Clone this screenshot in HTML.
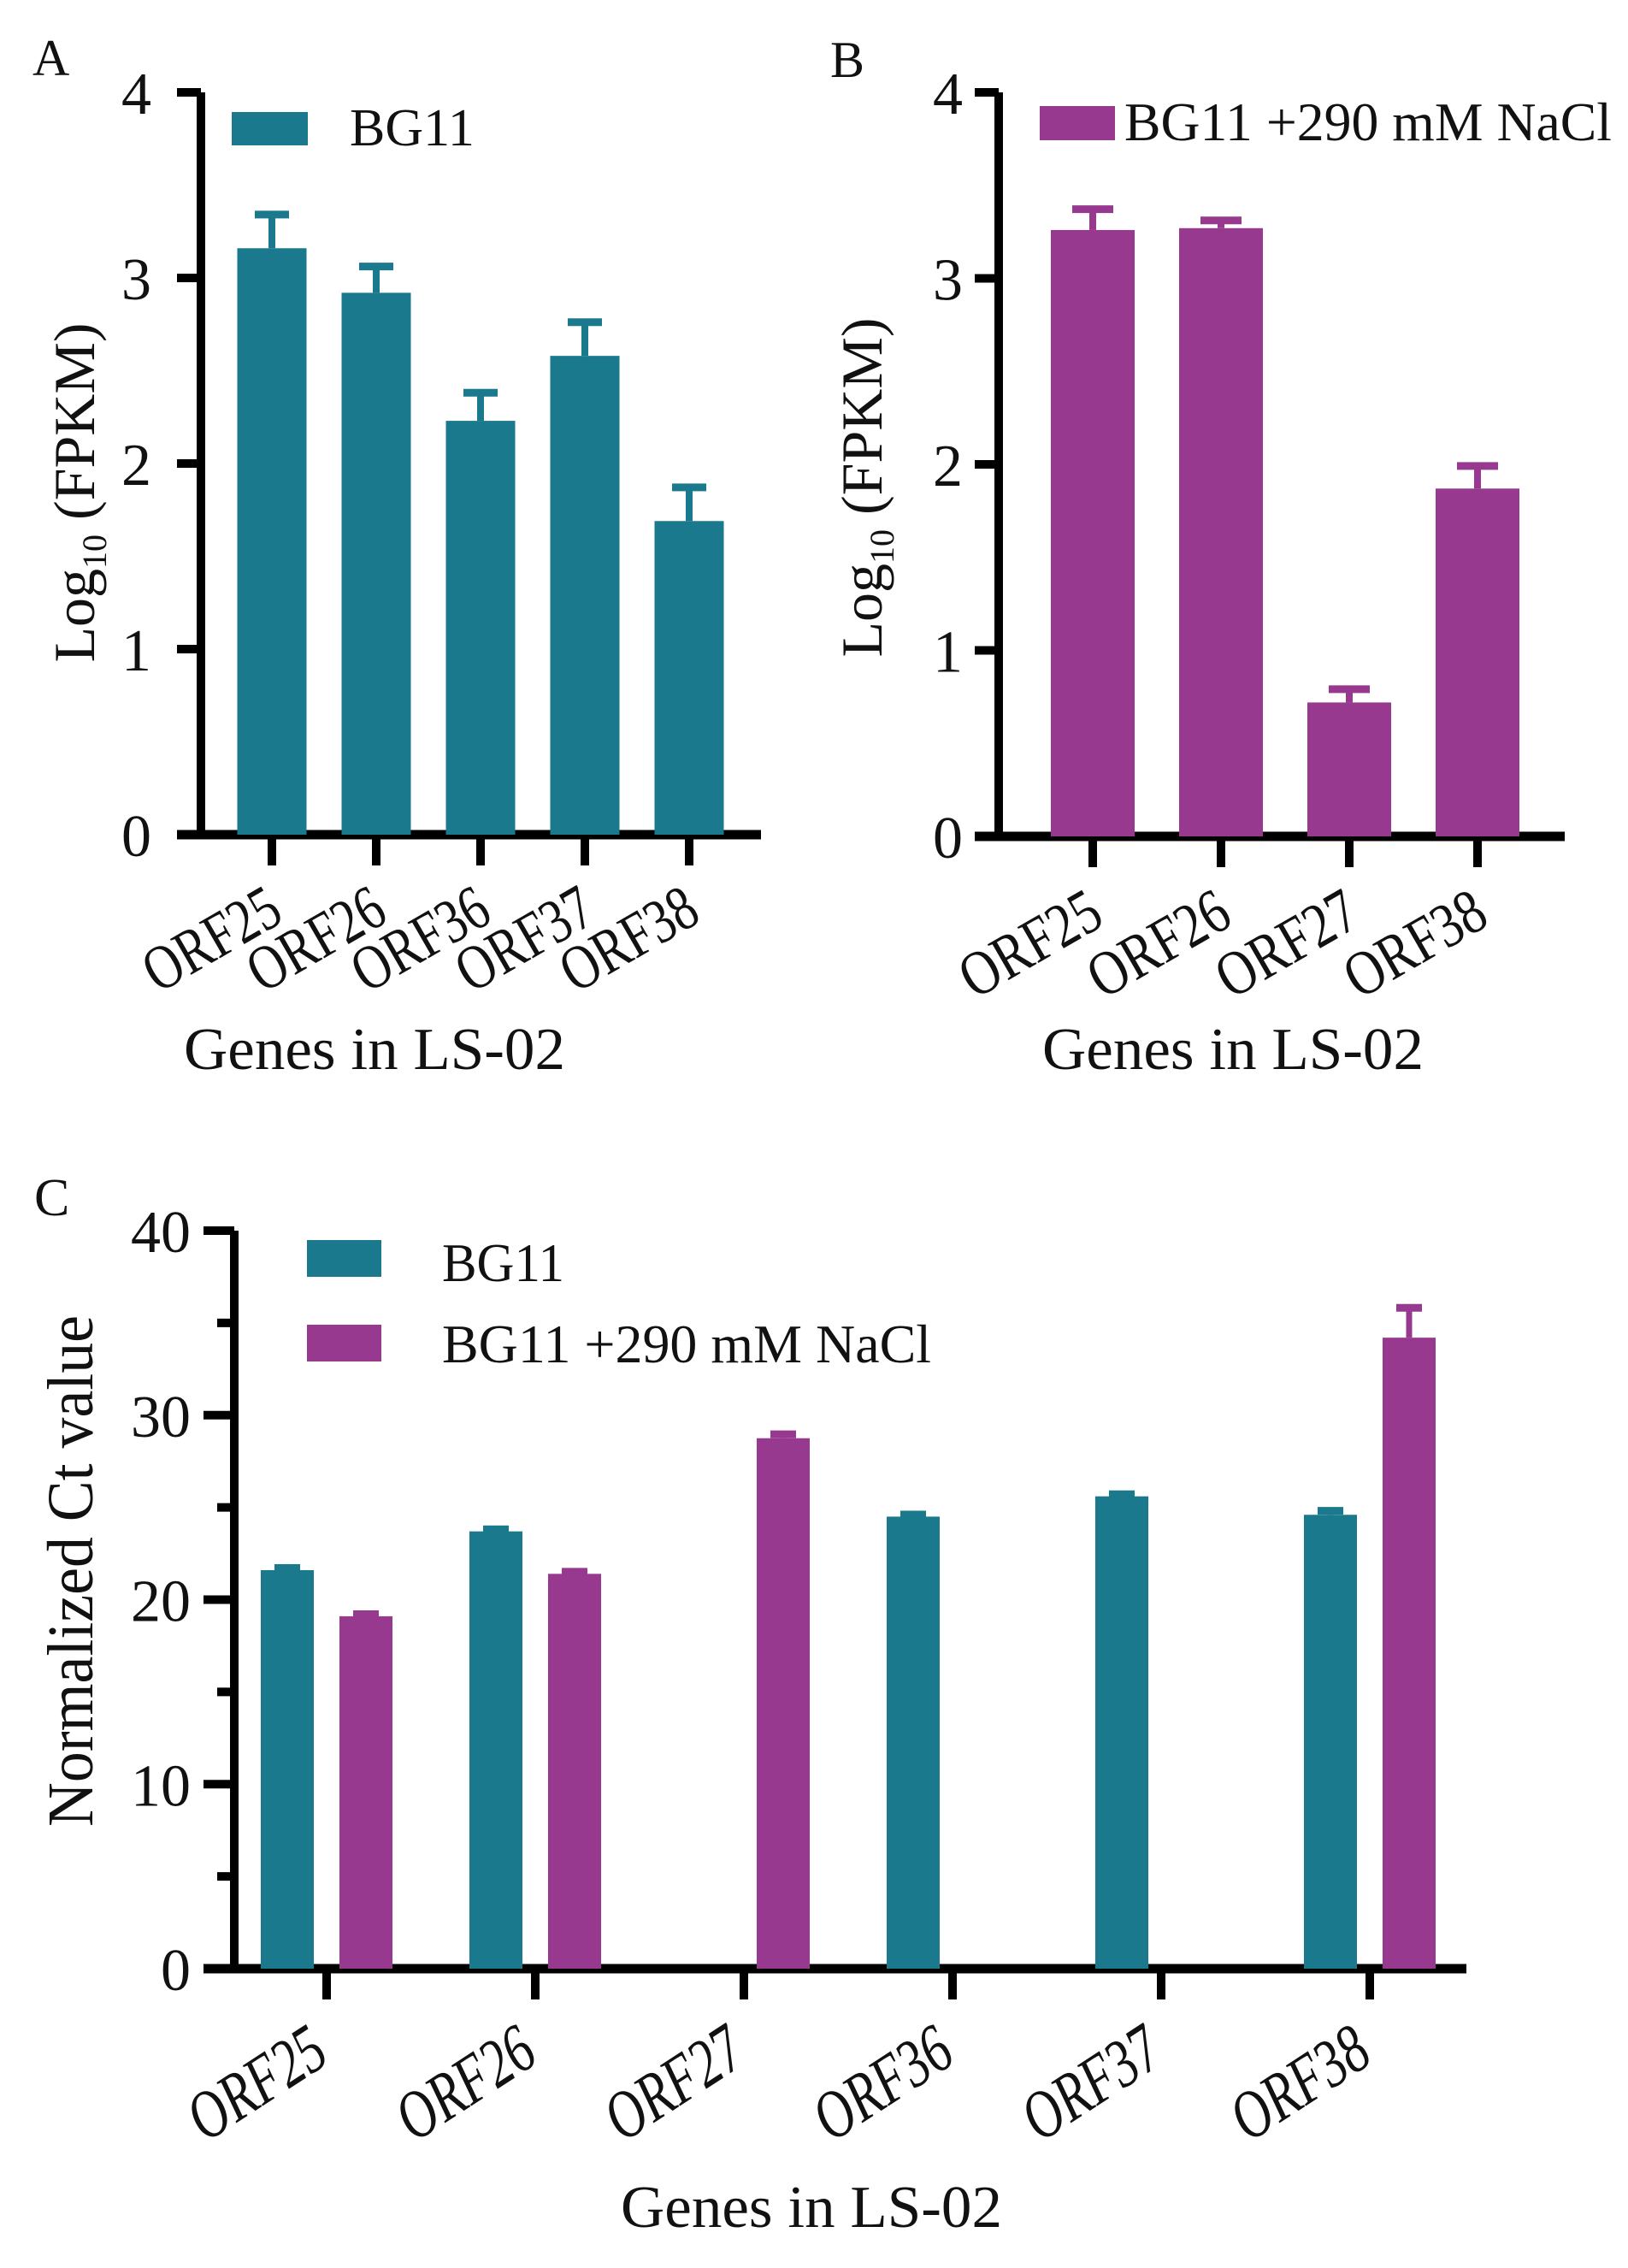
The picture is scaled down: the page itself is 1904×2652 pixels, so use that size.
<!DOCTYPE html>
<html><head><meta charset="utf-8"><style>
html,body{margin:0;padding:0;background:#fff;}
svg{display:block;}
text{font-family:"Liberation Serif",serif;fill:#111;}
</style></head><body>
<svg id="fig" width="1904" height="2652" viewBox="0 0 1904 2652" xmlns="http://www.w3.org/2000/svg">
<g id="pA"></g>
<g id="pB"></g>
<g id="pC"></g>
</svg>
<script>
const catsA = ["ORF25","ORF26","ORF36","ORF37","ORF38"];
const valsA = [3.16,2.92,2.23,2.58,1.69];
const errA = [0.2,0.16,0.17,0.2,0.2];
const catsB = ["ORF25","ORF26","ORF27","ORF38"];
const valsB = [3.26,3.27,0.72,1.87];
const errB = [0.13,0.06,0.09,0.14];
const ticksAB = [0,1,2,3,4];
const catsC = ["ORF25","ORF26","ORF27","ORF36","ORF37","ORF38"];
const valsCteal = [21.6,23.7,null,24.5,25.6,24.6];
const errCteal = [0.3,0.3,0,0.3,0.3,0.4];
const valsCmag = [19.1,21.4,28.75,null,null,34.2];
const errCmag = [0.3,0.3,0.4,0,0,1.8];
const ticksC = [0,10,20,30,40];
const minorC = [5,15,25,35];
const TEAL="#1a798d", MAG="#973a8f";
const NS="http://www.w3.org/2000/svg";
function mk(parent,tag,attrs,txt){const e=document.createElementNS(NS,tag);for(const k in attrs)e.setAttribute(k,attrs[k]);if(txt!==undefined)e.textContent=txt;parent.appendChild(e);return e;}

function panel(g,cfg){
  const y=v=>cfg.y0-(v-cfg.vmin)/(cfg.vmax-cfg.vmin)*(cfg.y0-cfg.ytop);
  let e=mk(g,'line',{x1:cfg.ax,y1:cfg.ytop,x2:cfg.ax,y2:cfg.y0+5,stroke:'#000','stroke-width':10});
  
  
  e=mk(g,'line',{x1:cfg.ax-cfg.tickLen,y1:cfg.y0,x2:cfg.xend,y2:cfg.y0,stroke:'#000','stroke-width':11});
  
  
  cfg.ticks.forEach(t=>{
    const ty=y(t);
    let l=mk(g,'line',{x1:cfg.ax-cfg.tickLen,y1:ty,x2:cfg.ax,y2:ty,stroke:'#000','stroke-width':10});
    
    
    let tx=mk(g,'text',{x:cfg.tickLabelX,y:ty+25,'text-anchor':'end','font-size':cfg.tickFont},String(t));
    
    
  });
  (cfg.minor||[]).forEach(t=>{
    let l=mk(g,'line',{x1:cfg.ax-20,y1:y(t),x2:cfg.ax,y2:y(t),stroke:'#000','stroke-width':10});
    
    
  });
  cfg.cats.forEach((c,i)=>{
    const cx=cfg.x0+i*cfg.step;
    let l=mk(g,'line',{x1:cx,y1:cfg.y0,x2:cx,y2:cfg.y0+36,stroke:'#000','stroke-width':10});
    
    
    const lx=cx+cfg.lblDx, ly=cfg.lblY;
    let t=mk(g,'text',{x:lx,y:ly,'text-anchor':'end','font-size':cfg.lblFont,'font-style':cfg.italic?'italic':'normal',textLength:cfg.lblLen,lengthAdjust:'spacingAndGlyphs',transform:`rotate(${cfg.lblAng} ${lx} ${ly})`},c);
    
    
    cfg.series.forEach(s=>{
      const v=s.vals[i]; if(v===null||v===undefined) return;
      const bx=cx+s.off-cfg.bw/2;
      if(s.err[i]>0){
        const et=y(v+s.err[i]);
        let st=mk(g,'line',{x1:cx+s.off,y1:y(v),x2:cx+s.off,y2:et,stroke:s.color,'stroke-width':cfg.stemW});
        
        
        let cp=mk(g,'line',{x1:cx+s.off-cfg.capW/2,y1:et+4,x2:cx+s.off+cfg.capW/2,y2:et+4,stroke:s.color,'stroke-width':9});
        
        
      }
      let r=mk(g,'rect',{x:bx,y:y(v),width:cfg.bw,height:cfg.y0-y(v),fill:s.color});
      
      
    });
  });
  return y;
}

const gA=document.getElementById('pA');
panel(gA,{ax:235,ytop:108,y0:976,vmin:0,vmax:4,xend:890,tickLen:28,ticks:ticksAB,tickLabelX:177,tickFont:70,
  cats:catsA,x0:318,step:122,bw:81,stemW:8,capW:40,lblDx:16,lblY:1076,lblAng:-30,lblFont:74,lblLen:172,italic:false,
  series:[{key:'bg11',vals:valsA,err:errA,color:TEAL,off:0}]});
let t;
t=mk(gA,'text',{x:38,y:88,'font-size':60},'A');


t=mk(gA,'rect',{x:271,y:131,width:89,height:39,fill:TEAL});


t=mk(gA,'text',{x:409,y:170,'font-size':62},'BG11');


t=mk(gA,'text',{x:0,y:0,'font-size':68,'text-anchor':'middle',transform:'translate(110 576) rotate(-90)'});


t.innerHTML='Log<tspan font-size="40" dy="14">10</tspan><tspan dy="-14"> (FPKM)</tspan>';
t=mk(gA,'text',{x:438,y:1250,'font-size':70,'text-anchor':'middle',textLength:446,lengthAdjust:'spacingAndGlyphs'},'Genes in LS-02');



const gB=document.getElementById('pB');
panel(gB,{ax:1168,ytop:108,y0:978,vmin:0,vmax:4,xend:1830,tickLen:28,ticks:ticksAB,tickLabelX:1126,tickFont:70,
  cats:catsB,x0:1278,step:150,bw:98,stemW:8,capW:48,lblDx:16,lblY:1080,lblAng:-30,lblFont:74,lblLen:178,italic:false,
  series:[{key:'nacl',vals:valsB,err:errB,color:MAG,off:0}]});
t=mk(gB,'text',{x:971,y:90,'font-size':60},'B');


t=mk(gB,'rect',{x:1216,y:124,width:88,height:40,fill:MAG});


t=mk(gB,'text',{x:1315,y:164,'font-size':64,textLength:570,lengthAdjust:'spacingAndGlyphs'},'BG11 +290 mM NaCl');


t=mk(gB,'text',{x:0,y:0,'font-size':68,'text-anchor':'middle',transform:'translate(1031 570) rotate(-90)'});


t.innerHTML='Log<tspan font-size="40" dy="14">10</tspan><tspan dy="-14"> (FPKM)</tspan>';
t=mk(gB,'text',{x:1442,y:1250,'font-size':70,'text-anchor':'middle',textLength:446,lengthAdjust:'spacingAndGlyphs'},'Genes in LS-02');



const gC=document.getElementById('pC');
panel(gC,{ax:274,ytop:1439,y0:2302,vmin:0,vmax:40,xend:1715,tickLen:36,ticks:ticksC,minor:minorC,tickLabelX:223,tickFont:70,
  cats:catsC,x0:382,step:244,bw:62,stemW:7,capW:30,lblDx:6,lblY:2410,lblAng:-33,lblFont:80,lblLen:176,italic:true,
  series:[{key:'bg11',vals:valsCteal,err:errCteal,color:TEAL,off:-46},{key:'nacl',vals:valsCmag,err:errCmag,color:MAG,off:46}]});
t=mk(gC,'text',{x:40,y:1421,'font-size':62},'C');


t=mk(gC,'rect',{x:359,y:1450,width:87,height:43,fill:TEAL});


t=mk(gC,'rect',{x:359,y:1549,width:87,height:43,fill:MAG});


t=mk(gC,'text',{x:517,y:1498,'font-size':64,textLength:143,lengthAdjust:'spacingAndGlyphs'},'BG11');


t=mk(gC,'text',{x:517,y:1593,'font-size':64,textLength:572,lengthAdjust:'spacingAndGlyphs'},'BG11 +290 mM NaCl');


t=mk(gC,'text',{x:0,y:0,'font-size':76,'text-anchor':'middle',textLength:598,lengthAdjust:'spacingAndGlyphs',transform:'translate(108 1837) rotate(-90)'},'Normalized Ct value');


t=mk(gC,'text',{x:949,y:2604,'font-size':70,'text-anchor':'middle',textLength:446,lengthAdjust:'spacingAndGlyphs'},'Genes in LS-02');


</script>
</body></html>
